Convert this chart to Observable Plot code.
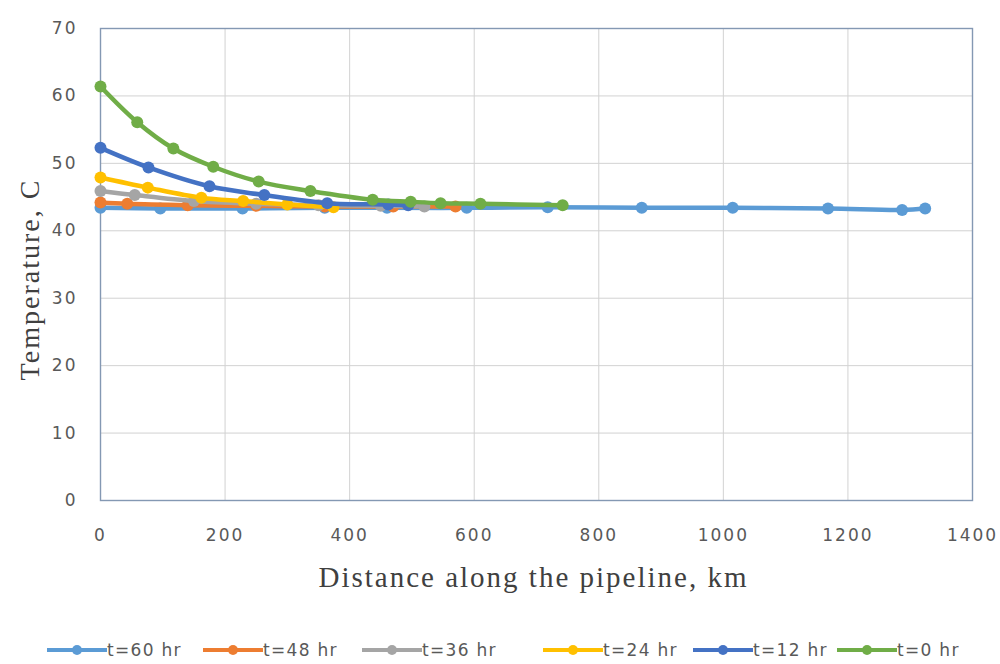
<!DOCTYPE html>
<html>
<head>
<meta charset="utf-8">
<script src="https://cdn.jsdelivr.net/npm/d3@7"></script>
<script src="https://cdn.jsdelivr.net/npm/@observablehq/plot@0.6"></script>
<style>
  html, body { margin: 0; padding: 0; background: #fff; }
  #chart svg { display: block; }
  #chart svg text { letter-spacing: 2px; }
  g[aria-label="ytitle"] text { letter-spacing: 0.3px; }
  g[aria-label="xtitle"] text { letter-spacing: 2px; }
  #legend { position: relative; width: 1000px; height: 54px; font-family: "DejaVu Sans", sans-serif; font-size: 17px; color: #595959; letter-spacing: 1.3px; }
  .item { position: absolute; top: 30px; height: 20px; line-height: 20px; display: flex; align-items: center; white-space: nowrap; }
  .item svg { display: block; }
</style>
</head>
<body>
<div id="chart"></div>
<div id="legend"></div>
<script>
// ---- data ----
const seriesNames = ["t=60 hr", "t=48 hr", "t=36 hr", "t=24 hr", "t=12 hr", "t=0 hr"];
const seriesColors = ["#5B9BD5", "#ED7D31", "#A5A5A5", "#FFC000", "#4472C4", "#70AD47"];

const dist60 = [0, 96, 228, 360, 460, 588, 718, 869, 1015, 1168, 1287, 1324];
const temp60 = [43.4, 43.3, 43.3, 43.4, 43.4, 43.4, 43.5, 43.4, 43.4, 43.3, 43.1, 43.3];

const dist48 = [0, 43, 140, 250, 360, 470, 570];
const temp48 = [44.2, 44.0, 43.8, 43.7, 43.6, 43.6, 43.6];

const dist36 = [0, 55, 150, 250, 350, 450, 520];
const temp36 = [45.9, 45.3, 44.4, 44.0, 43.8, 43.7, 43.6];

const dist24 = [0, 76, 162, 229, 300, 374];
const temp24 = [47.9, 46.4, 44.9, 44.4, 43.9, 43.5];

const dist12 = [0, 77, 175, 263, 364, 462, 494];
const temp12 = [52.3, 49.4, 46.6, 45.3, 44.1, 43.9, 43.8];

const dist0 = [0, 59, 117, 181, 254, 337, 437, 498, 546, 610, 742];
const temp0 = [61.4, 56.1, 52.2, 49.5, 47.3, 45.9, 44.6, 44.3, 44.1, 44.0, 43.8];

const xTicks = [0, 200, 400, 600, 800, 1000, 1200, 1400];
const yTicks = [0, 10, 20, 30, 40, 50, 60, 70];
const xTitle = "Distance along the pipeline, km";
const yTitle = "Temperature, C";

// ---- build ----
const dists = [dist60, dist48, dist36, dist24, dist12, dist0];
const temps = [temp60, temp48, temp36, temp24, temp12, temp0];
const tables = seriesNames.map((name, i) => dists[i].map((d, j) => ({series: name, x: d, y: temps[i][j]})));

const seriesMarks = tables.flatMap((rows, i) => [
  Plot.line(rows, {x: "x", y: "y", stroke: seriesColors[i], strokeWidth: 4.5, curve: "catmull-rom"}),
  Plot.dot(rows, {x: "x", y: "y", r: 6, fill: seriesColors[i], stroke: "none"})
]);

const chart = Plot.plot({
  width: 1000,
  height: 610,
  marginLeft: 100,
  marginRight: 28,
  marginTop: 28,
  marginBottom: 110,
  x: {domain: [0, 1400]},
  y: {domain: [0, 70]},
  style: {fontFamily: "DejaVu Sans, sans-serif", fontSize: "17px", color: "#595959", background: "white"},
  marks: [
    Plot.gridX(xTicks, {stroke: "#d2d2d2", strokeOpacity: 1}),
    Plot.gridY(yTicks, {stroke: "#d2d2d2", strokeOpacity: 1}),
    Plot.frame({stroke: "#8498b3", strokeWidth: 1.4}),
    Plot.axisX(xTicks, {tickSize: 0, tickPadding: 28, label: null, fill: "#595959", tickFormat: d => String(d)}),
    Plot.axisY(yTicks, {tickSize: 0, tickPadding: 23, label: null, fill: "#595959", tickFormat: d => String(d)}),
    ...seriesMarks,
    Plot.text([yTitle], {frameAnchor: "left", textAnchor: "middle", lineAnchor: "middle", dx: -70, dy: 15, rotate: -90, fontSize: 28, fontFamily: "Liberation Serif, serif", fill: "#404040", ariaLabel: "ytitle"}),
    Plot.text([xTitle], {frameAnchor: "bottom", textAnchor: "middle", lineAnchor: "middle", dx: -3, dy: 77, fontSize: 29, fontFamily: "Liberation Serif, serif", fill: "#404040", ariaLabel: "xtitle"})
  ]
});
document.getElementById("chart").append(chart);

// ---- legend ----
const legendLefts = [47, 203, 362, 543, 693, 837];
const legend = document.getElementById("legend");
seriesNames.forEach((name, i) => {
  const item = document.createElement("div");
  item.className = "item";
  item.style.left = legendLefts[i] + "px";
  item.innerHTML = `<svg width="60" height="14"><line x1="0" x2="60" y1="7" y2="7" stroke="${seriesColors[i]}" stroke-width="4"/><circle cx="30" cy="7" r="5" fill="${seriesColors[i]}"/></svg><span>${name}</span>`;
  legend.append(item);
});
</script>
</body>
</html>
